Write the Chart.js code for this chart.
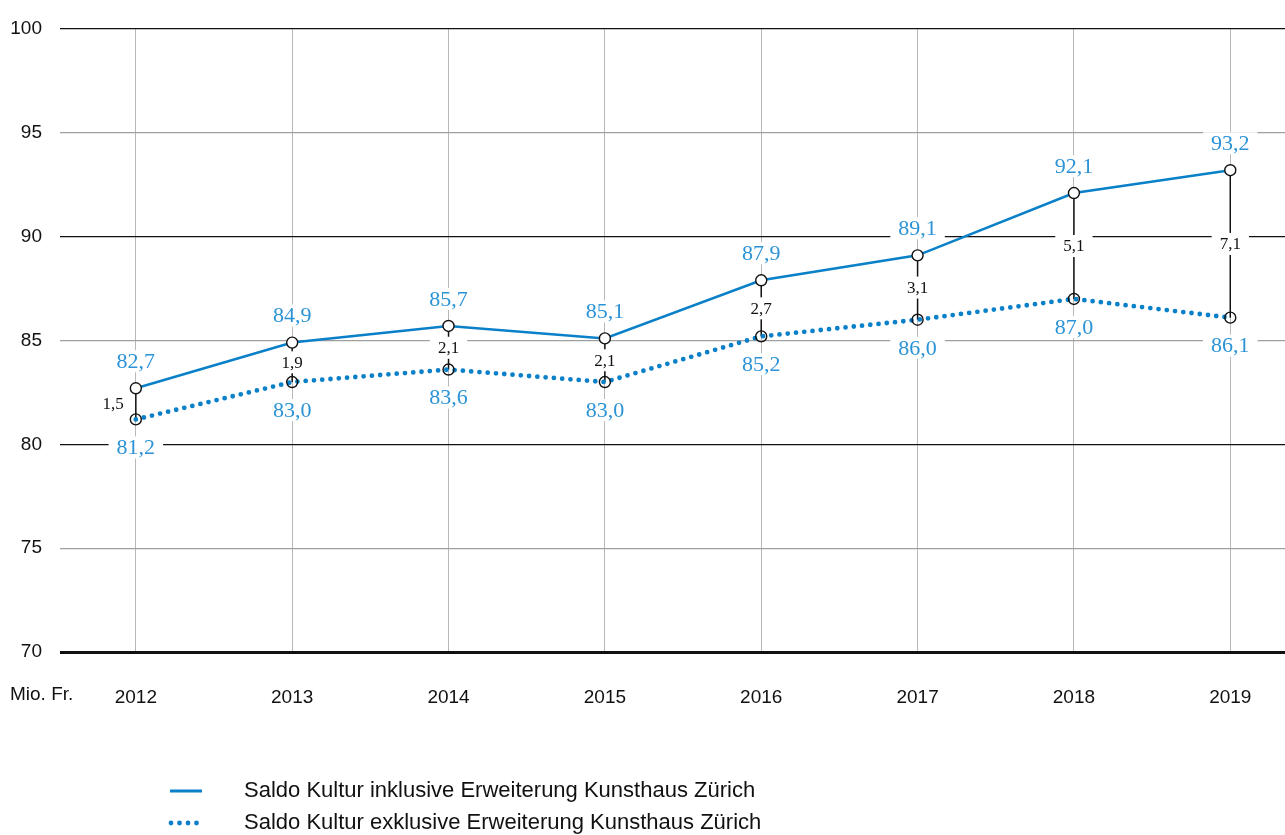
<!DOCTYPE html>
<html>
<head>
<meta charset="utf-8">
<script src="https://cdn.jsdelivr.net/npm/chart.js@4"></script>
<style>
  html, body { margin: 0; padding: 0; background: #fff; overflow: hidden; }
  canvas { display: block; }
</style>
</head>
<body>
<canvas id="saldoChart" width="1285" height="835"></canvas>
<script>
// values
const years = [2012, 2013, 2014, 2015, 2016, 2017, 2018, 2019];
const saldoInklusive = [82.7, 84.9, 85.7, 85.1, 87.9, 89.1, 92.1, 93.2];
const saldoExklusive = [81.2, 83.0, 83.6, 83.0, 85.2, 86.0, 87.0, 86.1];
const differenz = [1.5, 1.9, 2.1, 2.1, 2.7, 3.1, 5.1, 7.1];
const yTicks = [70, 75, 80, 85, 90, 95, 100];
const seriesNames = [
    'Saldo Kultur inklusive Erweiterung Kunsthaus Zürich',
    'Saldo Kultur exklusive Erweiterung Kunsthaus Zürich'
];

const blue = '#0a80c8';
const labelBlue = '#2b93d6';
const sansFont = '"Liberation Sans", Arial, sans-serif';
const serifFont = '"Liberation Serif", "DejaVu Serif", serif';

const fmt = v => v.toFixed(1).replace('.', ',');

function labelBox(ctx, text, x, y, font, color, align) {
    ctx.font = font;
    const w = ctx.measureText(text).width;
    let left = x - w / 2;
    if (align === 'right') left = x - w;
    ctx.fillStyle = '#fff';
    ctx.fillRect(left - 8, y - 11, w + 16, 22);
    ctx.fillStyle = color;
    ctx.textAlign = 'left';
    ctx.textBaseline = 'middle';
    ctx.fillText(text, left, y + 1);
}

// vertical connectors between the two series + labels
const connectorPlugin = {
    id: 'connectors',
    beforeDatasetsDraw(chart) {
        const ctx = chart.ctx;
        const xs = chart.scales.x, ys = chart.scales.y;
        ctx.save();
        ctx.strokeStyle = '#111';
        ctx.lineWidth = 1.5;
        years.forEach((yr, i) => {
            const px = xs.getPixelForValue(yr);
            ctx.beginPath();
            ctx.moveTo(px, ys.getPixelForValue(saldoInklusive[i]));
            ctx.lineTo(px, ys.getPixelForValue(saldoExklusive[i]));
            ctx.stroke();
        });
        ctx.restore();
    },
    afterDatasetsDraw(chart) {
        const ctx = chart.ctx;
        const xs = chart.scales.x, ys = chart.scales.y;
        ctx.save();
        years.forEach((yr, i) => {
            const px = xs.getPixelForValue(yr);
            const y1 = ys.getPixelForValue(saldoInklusive[i]);
            const y2 = ys.getPixelForValue(saldoExklusive[i]);
            labelBox(ctx, fmt(saldoInklusive[i]), px, y1 - 27, '22px ' + serifFont, labelBlue);
            labelBox(ctx, fmt(saldoExklusive[i]), px, y2 + 28, '22px ' + serifFont, labelBlue);
            const mid = (y1 + y2) / 2;
            if (y2 - y1 < 35) {
                labelBox(ctx, fmt(differenz[i]), px - 12, mid, '17px ' + serifFont, '#111', 'right');
            } else {
                labelBox(ctx, fmt(differenz[i]), px, mid, '17px ' + serifFont, '#111');
            }
        });
        ctx.restore();
    },
    afterDraw(chart) {
        const ctx = chart.ctx;
        ctx.save();
        // unit label
        ctx.font = '19px ' + sansFont;
        ctx.fillStyle = '#111';
        ctx.textAlign = 'left';
        ctx.textBaseline = 'middle';
        ctx.fillText('Mio. Fr.', 10, 695);

        // legend
        const ds = chart.data.datasets;
        const rows = [791, 823];
        rows.forEach((ry, i) => {
            ctx.strokeStyle = ds[i].borderColor;
            ctx.lineWidth = i === 0 ? 3 : 4.8;
            ctx.lineCap = i === 0 ? 'butt' : 'round';
            ctx.setLineDash(i === 0 ? [] : [0, 8.5]);
            ctx.beginPath();
            ctx.moveTo(i === 0 ? 170 : 171, ry);
            ctx.lineTo(i === 0 ? 202 : 200, ry);
            ctx.stroke();
            ctx.setLineDash([]);
            ctx.fillStyle = '#111';
            ctx.font = '22px ' + sansFont;
            ctx.fillText(ds[i].label, 244, ry);
        });
        ctx.restore();
    }
};

const ctx = document.getElementById('saldoChart').getContext('2d');
new Chart(ctx, {
    type: 'line',
    data: {
        datasets: [{
            label: seriesNames[0],
            data: years.map((yr, i) => ({ x: yr, y: saldoInklusive[i] })),
            borderColor: blue,
            borderWidth: 2.6,
            pointRadius: 5.5,
            pointBorderWidth: 1.4,
            pointBorderColor: '#111',
            pointBackgroundColor: '#fff',
            tension: 0
        }, {
            label: seriesNames[1],
            data: years.map((yr, i) => ({ x: yr, y: saldoExklusive[i] })),
            borderColor: blue,
            borderWidth: 4.8,
            borderDash: [0, 8.3],
            borderCapStyle: 'round',
            pointRadius: 5.5,
            pointBorderWidth: 1.4,
            pointBorderColor: '#111',
            pointBackgroundColor: 'rgba(255,255,255,0)',
            tension: 0
        }]
    },
    options: {
        responsive: false,
        animation: false,
        layout: { autoPadding: false, padding: { top: 29, left: 0, right: 0, bottom: 0 } },
        plugins: {
            legend: { display: false },
            tooltip: { enabled: false }
        },
        scales: {
            x: {
                type: 'linear',
                min: 2011.515,
                max: 2019.35,
                afterBuildTicks: scale => { scale.ticks = years.map(v => ({ value: v })); },
                afterFit: scale => {
                    scale.height = 183;
                    scale.paddingLeft = 0;
                    scale.paddingRight = 0;
                },
                border: { display: false },
                grid: { color: '#b8b8b8', lineWidth: 1, drawTicks: false },
                ticks: {
                    padding: 34,
                    color: '#111',
                    font: { family: sansFont, size: 19 },
                    callback: v => String(v)
                }
            },
            y: {
                min: 70,
                max: 100,
                afterBuildTicks: scale => { scale.ticks = yTicks.map(v => ({ value: v })); },
                afterFit: scale => {
                    scale.width = 60;
                    scale.paddingTop = 0;
                    scale.paddingBottom = 0;
                },
                border: { display: false },
                grid: {
                    drawTicks: false,
                    color: c => (c.tick && c.tick.value % 10 === 0) ? '#111' : '#a0a0a0',
                    lineWidth: c => (c.tick && c.tick.value === 70) ? 3 : 1.2
                },
                ticks: {
                    padding: 18,
                    color: '#111',
                    font: { family: sansFont, size: 19 },
                    callback: v => String(v)
                }
            }
        }
    },
    plugins: [connectorPlugin]
});
</script>
</body>
</html>
